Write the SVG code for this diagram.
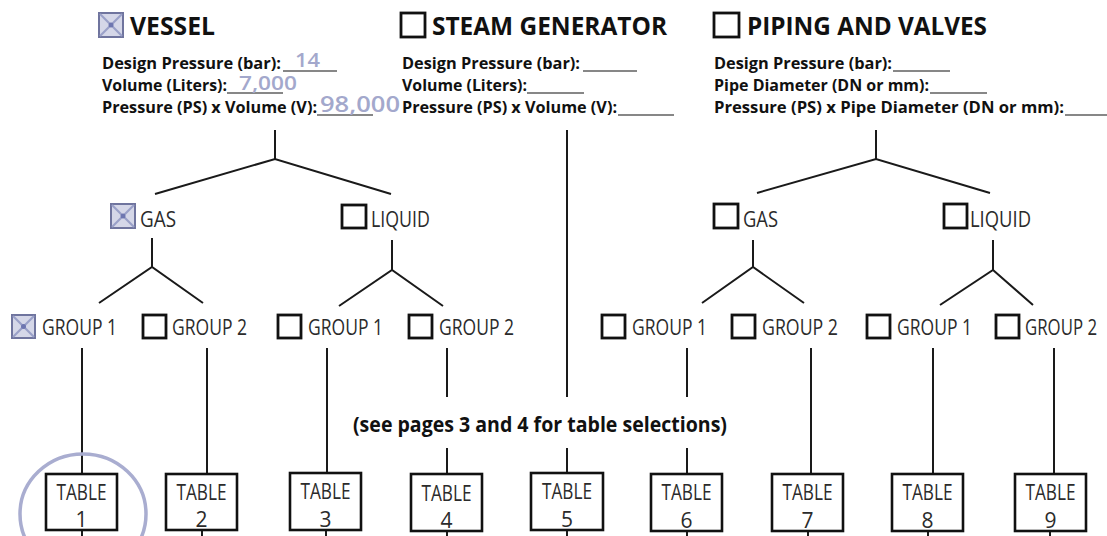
<svg xmlns="http://www.w3.org/2000/svg" width="1107" height="536" viewBox="0 0 1107 536">
<defs>
<style>
text{font-family:"Open Sans","Liberation Sans",Arial,sans-serif}
.ttl{font-weight:bold;font-size:25px;fill:#111}
.sub{font-weight:bold;font-size:16px;fill:#111}
.val{font-weight:600;fill:#a3a8cc}
.lbl{font-size:21px;fill:#2b2b2b}
.tb{font-size:21px;fill:#2b2b2b;text-anchor:middle}
.note{font-weight:bold;font-size:21px;fill:#111}
.chk{fill:#fff;stroke:#111;stroke-width:2.8}
.chkx{fill:#d5d7e8;stroke:#6f749e;stroke-width:2}
.x{stroke:#9aa0c8;stroke-width:2.2}
.box{fill:#fff;stroke:#111;stroke-width:2.6}
.ln{stroke:#1a1a1a;stroke-width:2;fill:none}
.ul{stroke:#111;stroke-width:1.2}
</style>
</defs>
<rect width="1107" height="536" fill="#fff"/>

<g id="connectors">
<line class="ln" x1="275" y1="130" x2="275" y2="159"/>
<polyline class="ln" points="155,194 275,159 391,194"/>
<line class="ln" x1="876" y1="130" x2="876" y2="159"/>
<polyline class="ln" points="757,193 876,159 990,193"/>
<line class="ln" x1="152" y1="238" x2="152" y2="267"/>
<polyline class="ln" points="99,303 152,267 203,303"/>
<line class="ln" x1="392" y1="240" x2="392" y2="270"/>
<polyline class="ln" points="339,306 392,270 443,306"/>
<line class="ln" x1="753" y1="240" x2="753" y2="267"/>
<polyline class="ln" points="702,303 753,267 804,303"/>
<line class="ln" x1="993" y1="240" x2="993" y2="270"/>
<polyline class="ln" points="940,305 993,270 1033,305"/>
<line class="ln" x1="82" y1="348" x2="82" y2="473"/>
<line class="ln" x1="207" y1="348" x2="207" y2="473"/>
<line class="ln" x1="327" y1="348" x2="327" y2="473"/>
<line class="ln" x1="447" y1="348" x2="447" y2="397"/>
<line class="ln" x1="447" y1="448" x2="447" y2="473"/>
<line class="ln" x1="567" y1="130" x2="567" y2="397"/>
<line class="ln" x1="567" y1="448" x2="567" y2="473"/>
<line class="ln" x1="687" y1="348" x2="687" y2="397"/>
<line class="ln" x1="687" y1="448" x2="687" y2="473"/>
<line class="ln" x1="811" y1="348" x2="811" y2="473"/>
<line class="ln" x1="933" y1="348" x2="933" y2="473"/>
<line class="ln" x1="1054" y1="348" x2="1054" y2="473"/>
<g class="ln">
<line x1="82" y1="530" x2="82" y2="536"/>
<line x1="202" y1="530" x2="202" y2="536"/>
<line x1="326" y1="530" x2="326" y2="536"/>
<line x1="447" y1="530" x2="447" y2="536"/>
<line x1="567" y1="530" x2="567" y2="536"/>
<line x1="687" y1="530" x2="687" y2="536"/>
<line x1="808" y1="530" x2="808" y2="536"/>
<line x1="928" y1="530" x2="928" y2="536"/>
<line x1="1050" y1="530" x2="1050" y2="536"/>
</g>
</g>

<g id="vessel">
<rect class="chkx" x="99" y="13" width="24" height="24"/>
<line class="x" x1="100" y1="14" x2="122" y2="36"/><line class="x" x1="122" y1="14" x2="100" y2="36"/>
<circle cx="111" cy="25" r="2.5" fill="#6e76b0"/>
<text class="ttl" x="130" y="35" textLength="85" lengthAdjust="spacingAndGlyphs">VESSEL</text>
<text class="sub" x="102" y="69" textLength="179" lengthAdjust="spacingAndGlyphs">Design Pressure (bar):</text>
<line class="ul" x1="283" y1="71" x2="337" y2="71"/>
<text class="val" x="295" y="67" font-size="20" textLength="25" lengthAdjust="spacingAndGlyphs">14</text>
<text class="sub" x="102" y="91" textLength="125" lengthAdjust="spacingAndGlyphs">Volume (Liters):</text>
<line class="ul" x1="227" y1="93" x2="283" y2="93"/>
<text class="val" x="239" y="90" font-size="19" textLength="58" lengthAdjust="spacingAndGlyphs">7,000</text>
<text class="sub" x="102" y="113" textLength="215" lengthAdjust="spacingAndGlyphs">Pressure (PS) x Volume (V):</text>
<line class="ul" x1="317" y1="115" x2="373" y2="115"/>
<text class="val" x="320" y="112" font-size="22" textLength="80" lengthAdjust="spacingAndGlyphs">98,000</text>
</g>

<g id="steam-generator">
<rect class="chk" x="401" y="13" width="24" height="24"/>
<text class="ttl" x="432" y="35" textLength="235" lengthAdjust="spacingAndGlyphs">STEAM GENERATOR</text>
<text class="sub" x="402" y="69" textLength="178" lengthAdjust="spacingAndGlyphs">Design Pressure (bar):</text>
<line class="ul" x1="583" y1="71" x2="637" y2="71"/>
<text class="sub" x="402" y="91" textLength="125" lengthAdjust="spacingAndGlyphs">Volume (Liters):</text>
<line class="ul" x1="527" y1="93" x2="584" y2="93"/>
<text class="sub" x="402" y="113" textLength="215" lengthAdjust="spacingAndGlyphs">Pressure (PS) x Volume (V):</text>
<line class="ul" x1="618" y1="115" x2="674" y2="115"/>
</g>

<g id="piping-valves">
<rect class="chk" x="714" y="13" width="25" height="24"/>
<text class="ttl" x="747" y="35" textLength="240" lengthAdjust="spacingAndGlyphs">PIPING AND VALVES</text>
<text class="sub" x="714" y="69" textLength="178" lengthAdjust="spacingAndGlyphs">Design Pressure (bar):</text>
<line class="ul" x1="893" y1="71" x2="950" y2="71"/>
<text class="sub" x="714" y="91" textLength="215" lengthAdjust="spacingAndGlyphs">Pipe Diameter (DN or mm):</text>
<line class="ul" x1="930" y1="93" x2="987" y2="93"/>
<text class="sub" x="714" y="113" textLength="350" lengthAdjust="spacingAndGlyphs">Pressure (PS) x Pipe Diameter (DN or mm):</text>
<line class="ul" x1="1065" y1="115" x2="1107" y2="115"/>
</g>

<g id="vessel-gas">
<rect class="chkx" x="111" y="204" width="24" height="24"/>
<line class="x" x1="112" y1="205" x2="134" y2="227"/><line class="x" x1="134" y1="205" x2="112" y2="227"/>
<circle cx="123" cy="216" r="2.5" fill="#6e76b0"/>
<text class="lbl" x="140" y="227" textLength="36" lengthAdjust="spacingAndGlyphs">GAS</text>
</g>
<g id="vessel-liquid">
<rect class="chk" x="342" y="205" width="24" height="23"/>
<text class="lbl" x="371" y="227" textLength="59" lengthAdjust="spacingAndGlyphs">LIQUID</text>
</g>
<g id="piping-gas">
<rect class="chk" x="714" y="204" width="24" height="24"/>
<text class="lbl" x="743" y="227" textLength="35" lengthAdjust="spacingAndGlyphs">GAS</text>
</g>
<g id="piping-liquid">
<rect class="chk" x="944" y="204" width="23" height="24"/>
<text class="lbl" x="970" y="227" textLength="61" lengthAdjust="spacingAndGlyphs">LIQUID</text>
</g>

<g id="vessel-gas-group1">
<rect class="chkx" x="12" y="315" width="23" height="23"/>
<line class="x" x1="13" y1="316" x2="34" y2="337"/><line class="x" x1="34" y1="316" x2="13" y2="337"/>
<circle cx="23.5" cy="326.5" r="2.5" fill="#6e76b0"/>
<text class="lbl" x="42" y="335" textLength="75" lengthAdjust="spacingAndGlyphs">GROUP 1</text>
</g>
<g id="vessel-gas-group2">
<rect class="chk" x="143" y="315" width="23" height="23"/>
<text class="lbl" x="172" y="335" textLength="75" lengthAdjust="spacingAndGlyphs">GROUP 2</text>
</g>
<g id="vessel-liquid-group1">
<rect class="chk" x="278" y="315" width="23" height="23"/>
<text class="lbl" x="308" y="335" textLength="75" lengthAdjust="spacingAndGlyphs">GROUP 1</text>
</g>
<g id="vessel-liquid-group2">
<rect class="chk" x="409" y="315" width="23" height="23"/>
<text class="lbl" x="439" y="335" textLength="75" lengthAdjust="spacingAndGlyphs">GROUP 2</text>
</g>
<g id="piping-gas-group1">
<rect class="chk" x="602" y="315" width="23" height="23"/>
<text class="lbl" x="632" y="335" textLength="75" lengthAdjust="spacingAndGlyphs">GROUP 1</text>
</g>
<g id="piping-gas-group2">
<rect class="chk" x="732" y="315" width="23" height="23"/>
<text class="lbl" x="762" y="335" textLength="76" lengthAdjust="spacingAndGlyphs">GROUP 2</text>
</g>
<g id="piping-liquid-group1">
<rect class="chk" x="867" y="315" width="23" height="23"/>
<text class="lbl" x="897" y="335" textLength="75" lengthAdjust="spacingAndGlyphs">GROUP 1</text>
</g>
<g id="piping-liquid-group2">
<rect class="chk" x="996" y="315" width="23" height="23"/>
<text class="lbl" x="1025" y="335" textLength="72" lengthAdjust="spacingAndGlyphs">GROUP 2</text>
</g>

<g id="note">
<text class="note" x="353" y="432" textLength="374" lengthAdjust="spacingAndGlyphs">(see pages 3 and 4 for table selections)</text>
</g>

<g id="table1">
<rect class="box" x="46" y="474" width="71" height="56" stroke-width="2"/>
<text class="tb" x="81.5" y="500" textLength="50" lengthAdjust="spacingAndGlyphs">TABLE</text>
<text class="tb" x="81.5" y="527">1</text>
</g>
<g id="table2">
<rect class="box" x="166" y="474" width="71" height="56" stroke-width="2"/>
<text class="tb" x="201.5" y="500" textLength="50" lengthAdjust="spacingAndGlyphs">TABLE</text>
<text class="tb" x="201.5" y="527">2</text>
</g>
<g id="table3">
<rect class="box" x="290" y="473" width="71" height="57"/>
<text class="tb" x="325.5" y="499" textLength="50" lengthAdjust="spacingAndGlyphs">TABLE</text>
<text class="tb" x="325.5" y="527">3</text>
</g>
<g id="table4">
<rect class="box" x="411" y="474" width="71" height="57"/>
<text class="tb" x="446.5" y="501" textLength="50" lengthAdjust="spacingAndGlyphs">TABLE</text>
<text class="tb" x="446.5" y="528">4</text>
</g>
<g id="table5">
<rect class="box" x="531" y="473" width="72" height="57"/>
<text class="tb" x="567" y="499" textLength="50" lengthAdjust="spacingAndGlyphs">TABLE</text>
<text class="tb" x="567" y="527">5</text>
</g>
<g id="table6">
<rect class="box" x="651" y="474" width="71" height="57"/>
<text class="tb" x="686.5" y="500" textLength="50" lengthAdjust="spacingAndGlyphs">TABLE</text>
<text class="tb" x="686.5" y="528">6</text>
</g>
<g id="table7">
<rect class="box" x="772" y="474" width="71" height="57"/>
<text class="tb" x="807.5" y="500" textLength="50" lengthAdjust="spacingAndGlyphs">TABLE</text>
<text class="tb" x="807.5" y="528">7</text>
</g>
<g id="table8">
<rect class="box" x="892" y="474" width="71" height="57"/>
<text class="tb" x="927.5" y="500" textLength="50" lengthAdjust="spacingAndGlyphs">TABLE</text>
<text class="tb" x="927.5" y="528">8</text>
</g>
<g id="table9">
<rect class="box" x="1015" y="474" width="71" height="57"/>
<text class="tb" x="1050.5" y="500" textLength="50" lengthAdjust="spacingAndGlyphs">TABLE</text>
<text class="tb" x="1050.5" y="528">9</text>
</g>

<ellipse id="selection-circle" cx="83" cy="514" rx="63" ry="60" fill="none" stroke="#a9add0" stroke-width="3.5"/>
</svg>
